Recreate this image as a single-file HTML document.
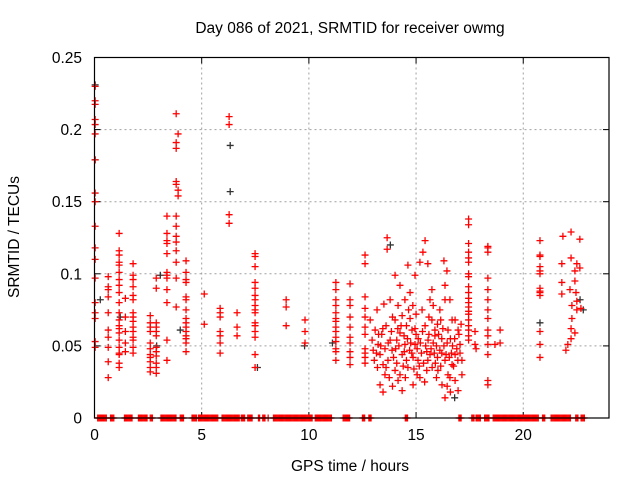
<!DOCTYPE html>
<html><head><meta charset="utf-8"><style>
body{margin:0;background:#fff}
svg{display:block;font-family:"Liberation Sans",sans-serif}
</style></head><body>
<svg id="chart" width="640" height="480" viewBox="0 0 640 480">
<rect width="640" height="480" fill="#fff"/>
<text x="350" y="33" font-size="15.5" text-anchor="middle" fill="#000">Day 086 of 2021, SRMTID for receiver owmg</text>
<text transform="translate(19,237) rotate(-90)" font-size="15.5" text-anchor="middle" fill="#000">SRMTID / TECUs</text>
<text x="350" y="471" font-size="15.5" text-anchor="middle" fill="#000">GPS time / hours</text>
<g id="grid"></g>
<g id="ticks"></g>
<g id="marks"></g>
<rect x="94.5" y="57.5" width="514.5" height="360.5" fill="none" stroke="#000" stroke-width="1.2"/>
</svg>
<script>
const xTicks=[0,5,10,15,20];
const yTicks=[0,0.05,0.1,0.15,0.2,0.25];
const yTickLabels=["0","0.05","0.1","0.15","0.2","0.25"];
const redColumns=[
[0.03,[0.230,0.220,0.2175,0.207,0.2035,0.197,0.179,0.156,0.150,0.133,0.118,0.110,0.097,0.080,0.073,0.069,0.053,0.049]],
[0.64,[0.098,0.091,0.089,0.084,0.073,0.061,0.056,0.049,0.039,0.028]],
[1.15,[0.128,0.116,0.113,0.108,0.106,0.101,0.096,0.092,0.087,0.080,0.073,0.068,0.064,0.062,0.059,0.054,0.049,0.045,0.044,0.038,0.035]],
[1.44,[0.083,0.070,0.060,0.052,0.046]],
[1.8,[0.107,0.099,0.096,0.091,0.085,0.082,0.073,0.070,0.067,0.063,0.060,0.056,0.054,0.049,0.045]],
[2.6,[0.071,0.066,0.063,0.060,0.052,0.048,0.044,0.042,0.039,0.035,0.032]],
[2.88,[0.097,0.090,0.066,0.063,0.060,0.057,0.049,0.046,0.043,0.038,0.035,0.031]],
[3.38,[0.140,0.128,0.123,0.121,0.114,0.101,0.099,0.097,0.089,0.080,0.054,0.040]],
[3.81,[0.211,0.191,0.187,0.164,0.162,0.140,0.133,0.126,0.122,0.116,0.108,0.097,0.077]],
[3.9,[0.197,0.158,0.154]],
[4.27,[0.109,0.101,0.096,0.094,0.084,0.082,0.075,0.069,0.066,0.063,0.060,0.057,0.055,0.052,0.046]],
[5.12,[0.086,0.065]],
[5.86,[0.076,0.073,0.070,0.060,0.057,0.052,0.045]],
[6.28,[0.209,0.2035,0.141,0.135]],
[6.65,[0.073,0.063,0.057]],
[7.49,[0.114,0.112,0.105,0.094,0.090,0.085,0.082,0.078,0.075,0.073,0.066,0.064,0.060,0.056,0.044,0.035]],
[8.94,[0.082,0.077,0.064]],
[9.82,[0.068,0.060,0.052]],
[11.26,[0.094,0.089,0.082,0.078,0.073,0.069,0.067,0.063,0.060,0.056,0.053,0.048,0.046,0.040]],
[11.92,[0.093,0.082,0.078,0.070,0.063,0.056,0.052,0.046,0.042,0.037]],
[12.62,[0.113,0.107,0.084,0.076,0.070,0.063,0.058,0.048,0.045,0.042,0.038]],
[17.45,[0.138,0.134,0.121,0.115,0.111,0.108,0.100,0.098,0.091,0.087,0.083,0.080,0.077,0.074,0.072,0.068,0.064,0.061,0.057,0.054]],
[18.35,[0.118,0.119,0.115,0.097,0.089,0.082,0.075,0.069,0.061,0.057,0.051,0.044,0.026,0.023]],
[20.78,[0.123,0.113,0.112,0.105,0.102,0.100,0.090,0.088,0.087,0.085,0.060,0.051,0.042]]
];
const redPoints=[
[13.09,0.061],[13.23,0.051],[13.32,0.044],[13.46,0.037],[13.55,0.030],[13.32,0.023],[13.79,0.054],[13.88,0.047],[13.69,0.040],[14.02,0.033],
[14.16,0.026],[14.35,0.044],[14.48,0.051],[14.25,0.059],[14.02,0.068],[14.72,0.069],[14.81,0.061],[14.62,0.035],[14.95,0.051],[15.09,0.040],
[15.18,0.028],[14.86,0.023],[14.35,0.019],[13.46,0.018],[13.79,0.082],[14.16,0.078],[14.48,0.082],[14.72,0.087],[14.25,0.092],[14.02,0.099],
[14.95,0.099],[15.18,0.108],[15.32,0.115],[15.42,0.123],[14.62,0.106],[13.65,0.125],[13.65,0.117],[15.55,0.107],[16.30,0.109],[15.65,0.082],
[15.74,0.068],[15.88,0.057],[16.11,0.047],[16.35,0.040],[16.49,0.030],[16.21,0.023],[16.02,0.033],[15.65,0.044],[15.56,0.054],[15.42,0.064],
[16.11,0.075],[16.35,0.082],[15.74,0.089],[16.35,0.092],[16.44,0.102],[15.28,0.075],[15.88,0.061],[16.58,0.028],[16.68,0.037],[16.82,0.044],
[16.49,0.061],[16.68,0.068],[16.58,0.082],[16.82,0.068],[16.96,0.061],[17.05,0.051],[17.14,0.040],[16.82,0.026],[16.96,0.019],[16.35,0.014],
[17.14,0.030],[14.35,0.071],[14.44,0.057],[14.86,0.042],[12.86,0.068],[12.95,0.054],[13.18,0.075],[17.75,0.060],[17.75,0.051],[17.8,0.048],
[18.92,0.061],[18.92,0.052],[18.68,0.051],[13.0,0.047],[13.4,0.058],[13.6,0.064],[13.9,0.070],[14.1,0.054],[14.55,0.064],[14.7,0.047],
[15.0,0.058],[15.2,0.052],[15.5,0.046],[15.9,0.038],[16.2,0.055],[16.7,0.050],[15.0,0.072],[15.8,0.078],[13.5,0.079],[16.0,0.065],
[13.05,0.040],[13.15,0.045],[13.25,0.058],[13.35,0.050],[13.45,0.062],[13.55,0.048],[13.6,0.035],[13.7,0.052],[13.75,0.028],[13.85,0.060],
[13.95,0.042],[14.05,0.048],[14.1,0.038],[14.2,0.050],[14.3,0.064],[14.4,0.036],[14.45,0.046],[14.55,0.040],[14.6,0.055],[14.65,0.075],
[14.75,0.052],[14.8,0.045],[14.9,0.034],[14.95,0.062],[15.05,0.048],[15.1,0.055],[15.15,0.036],[15.25,0.045],[15.3,0.060],[15.35,0.038],
[15.45,0.050],[15.5,0.033],[15.55,0.040],[15.6,0.058],[15.7,0.048],[15.75,0.035],[15.8,0.052],[15.85,0.045],[15.95,0.050],[16.0,0.042],
[16.05,0.058],[16.15,0.036],[16.2,0.045],[16.25,0.062],[16.3,0.050],[16.4,0.044],[16.45,0.052],[16.55,0.042],[16.6,0.055],[16.65,0.045],
[16.75,0.036],[16.8,0.055],[16.9,0.048],[16.95,0.040],[17.0,0.058],[17.05,0.045],[17.1,0.065],[13.2,0.035],[13.9,0.022],[14.25,0.030],
[14.5,0.028],[15.05,0.030],[15.4,0.025],[15.95,0.028],[16.45,0.022],[16.6,0.018],[14.15,0.062],[14.85,0.078],[15.6,0.070],[16.15,0.068],
[21.85,0.126],[22.23,0.129],[22.64,0.124],[22.23,0.111],[22.50,0.107],[22.41,0.102],[22.64,0.104],[22.41,0.095],[22.46,0.087],[22.18,0.089],
[22.27,0.078],[22.50,0.081],[22.69,0.076],[22.27,0.069],[22.50,0.075],[22.23,0.062],[22.41,0.059],[22.23,0.055],[22.08,0.051],[21.99,0.047],
[21.80,0.107],[21.80,0.094],[21.80,0.086]
];
const blackPoints=[[0.03,0.231],[0.03,0.179],[6.33,0.189],[6.33,0.157],[0.27,0.082],[3.07,0.099],[20.78,0.066],[22.65,0.082],[22.8,0.075],[7.6,0.035],[16.8,0.014],[11.1,0.052],[9.8,0.050],[4.0,0.061],[13.8,0.120],[2.9,0.050],[1.2,0.070]];
const zeroHours=[0.15,0.2,0.25,0.3,0.35,0.4,0.45,0.5,0.55,0.75,0.8,0.85,0.9,1.4,1.45,1.5,1.55,1.6,1.65,1.7,1.75,2.05,2.1,2.15,2.2,2.25,2.3,2.35,2.4,2.45,2.6,2.65,2.7,
3.1,3.15,3.2,3.25,3.3,3.35,3.4,3.45,3.5,3.55,3.6,3.65,3.7,3.75,3.8,4.0,4.05,4.1,4.15,4.55,4.6,4.65,4.7,4.75,4.85,4.9,4.95,5.0,5.05,5.1,5.15,5.2,5.25,5.3,5.35,5.4,5.45,5.5,5.55,5.6,5.65,5.7,5.75,
5.95,6.0,6.05,6.1,6.15,6.2,6.25,6.3,6.35,6.4,6.45,6.5,6.55,6.6,6.65,6.7,6.75,6.85,6.9,6.95,7.0,7.15,7.2,7.25,7.3,7.35,7.65,7.7,7.85,7.9,7.95,8.1,
8.35,8.4,8.45,8.5,8.55,8.6,8.65,8.7,8.75,8.8,8.85,8.9,8.95,9.0,9.05,9.1,9.15,9.2,9.25,9.3,9.35,9.4,9.45,9.5,9.55,9.6,9.65,9.7,9.75,9.8,9.85,9.9,9.95,10.0,10.05,10.1,10.15,
10.3,10.35,10.4,10.45,10.5,10.55,10.6,10.65,10.7,10.75,10.8,10.85,10.9,10.95,11.0,11.05,11.6,11.65,11.7,11.75,11.8,11.85,11.9,12.5,12.55,12.6,12.8,12.85,12.9,14.5,14.55,14.6,17.0,17.05,17.1,17.6,17.65,17.7,17.8,17.85,17.9,17.95,18.0,18.2,18.25,18.3,18.35,18.4,
18.6,18.65,18.7,18.75,18.8,18.85,18.9,18.95,19.0,19.05,19.1,19.15,19.2,19.25,19.3,19.35,19.4,19.45,19.5,19.55,19.6,19.65,19.7,19.75,19.8,19.85,19.9,19.95,20.0,20.05,20.1,20.15,20.2,20.25,20.3,20.35,20.4,20.45,20.5,20.55,20.6,20.65,20.7,20.9,20.95,21.0,
21.3,21.35,21.4,21.45,21.5,21.55,21.6,21.65,21.7,21.75,21.8,21.85,21.9,21.95,22.0,22.05,22.1,22.15,22.2,22.45,22.5,22.55,22.7,22.75,22.8,22.85];

const NS='http://www.w3.org/2000/svg';
const X0=94.5,X1=609,Y0=418,Y1=57.5,XMAX=24,YMAX=0.25;
function xs(h){return X0+(X1-X0)*h/XMAX;}
function ys(v){return Y0-(Y0-Y1)*v/YMAX;}
const grid=document.getElementById('grid'),ticks=document.getElementById('ticks'),marks=document.getElementById('marks');
function line(p,x1,y1,x2,y2,st,dash,w){const l=document.createElementNS(NS,'line');l.setAttribute('x1',x1);l.setAttribute('y1',y1);l.setAttribute('x2',x2);l.setAttribute('y2',y2);l.setAttribute('stroke',st);l.setAttribute('stroke-width',w||1);if(dash)l.setAttribute('stroke-dasharray',dash);p.appendChild(l);return l;}
function txt(p,x,y,s,anchor){const t=document.createElementNS(NS,'text');t.setAttribute('x',x);t.setAttribute('y',y);t.setAttribute('font-size','15.5');t.setAttribute('text-anchor',anchor);t.textContent=s;p.appendChild(t);return t;}
xTicks.forEach(function(h){const x=xs(h);
 if(h>0){const g=line(grid,x,Y1,x,Y0,'#a0a0a0','2,3');
 
 }
 line(ticks,x,Y0,x,Y0-6,'#000');line(ticks,x,Y1,x,Y1+6,'#000');
 const t=txt(ticks,x,440,String(h),'middle');
 
 });
yTicks.forEach(function(v,i){const y=ys(v);
 if(v>0&&v<YMAX){const g=line(grid,X0,y,X1,y,'#a0a0a0','2,3');
 
 }
 line(ticks,X0,y,X0+6,y,'#000');line(ticks,X1,y,X1-6,y,'#000');
 const t=txt(ticks,82,y+5.5,yTickLabels[i],'end');
 
 });
function plus(h,v,col){const x=xs(h),y=ys(v);const p=document.createElementNS(NS,'path');
 p.setAttribute('d','M'+(x-3.5)+' '+y+'H'+(x+3.5)+'M'+x+' '+(y-3.5)+'V'+(y+3.5));
 p.setAttribute('stroke',col);p.setAttribute('stroke-width','1.3');p.setAttribute('fill','none');
 
 
 marks.appendChild(p);}
blackPoints.forEach(function(d){plus(d[0],d[1],'#333');});
redColumns.forEach(function(c){c[1].forEach(function(v){plus(c[0],v,'#ff0000');});});
redPoints.forEach(function(d){plus(d[0],d[1],'#ff0000');});
zeroHours.forEach(function(h){plus(h,0,'#ff0000');});
</script>
</body></html>
